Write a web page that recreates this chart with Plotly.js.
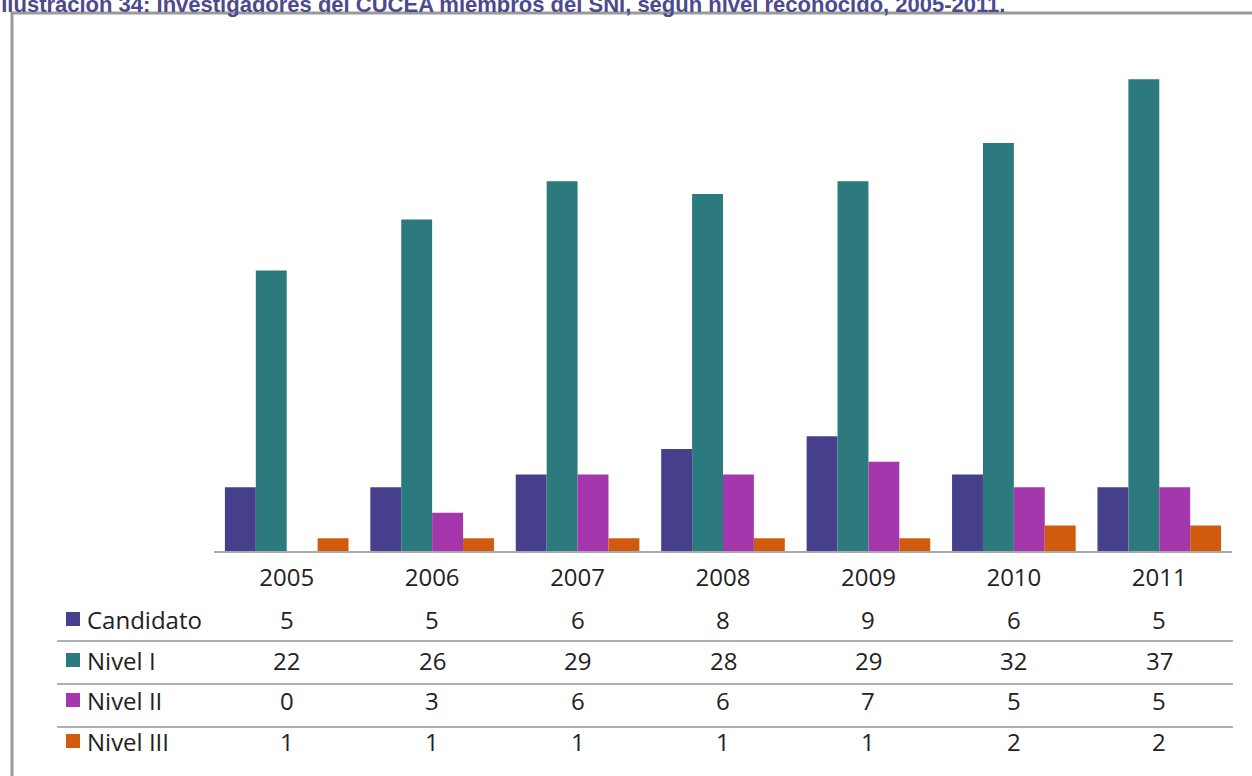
<!DOCTYPE html>
<html>
<head>
<meta charset="utf-8">
<script src="https://cdn.plot.ly/plotly-3.0.1.min.js"></script>
<style>html,body{margin:0;padding:0;background:#fff;overflow:hidden}</style>
</head>
<body>
<div id="chart" style="width:1252px;height:776px"></div>
<script>
// ---- data ----
const years = ['2005', '2006', '2007', '2008', '2009', '2010', '2011'];
const seriesNames = ['Candidato', 'Nivel I', 'Nivel II', 'Nivel III'];
const candidato = [5, 5, 6, 8, 9, 6, 5];
const nivelI = [22, 26, 29, 28, 29, 32, 37];
const nivelII = [0, 3, 6, 6, 7, 5, 5];
const nivelIII = [1, 1, 1, 1, 1, 2, 2];
const colors = ['#453f8c', '#2d7a7e', '#a537ad', '#d05a0e'];
const titleText = 'Ilustración 34: Investigadores del CUCEA miembros del SNI, según nivel reconocido, 2005-2011.';

const allSeries = [candidato, nivelI, nivelII, nivelIII];

// ---- geometry ----
const W = 1252, H = 776;
const M = {l: 214, r: 20, t: 60, b: 225};
const PW = W - M.l - M.r, PH = H - M.t - M.b;
const px2x = p => (p - M.l) / PW;          // pixel x -> paper x
const px2y = p => (H - M.b - p) / PH;      // pixel y -> paper y

const rowY = [619, 660, 700, 741];
const sepY = [641, 684, 727];
const tableFont = {family: 'Open Sans, DejaVu Sans, sans-serif', size: 24, color: '#222'};

const traces = seriesNames.map((name, i) => ({
  type: 'bar',
  name: name,
  x: years,
  y: allSeries[i],
  marker: {color: colors[i]},
  hoverinfo: 'x+y+name'
}));

const annotations = [];
const shapes = [];

seriesNames.forEach((name, i) => {
  annotations.push({
    xref: 'paper', yref: 'paper', x: px2x(85), y: px2y(rowY[i]),
    xanchor: 'left', yanchor: 'middle', text: name, showarrow: false, font: tableFont
  });
  shapes.push({
    type: 'rect', xref: 'paper', yref: 'paper',
    x0: px2x(66), x1: px2x(80), y0: px2y(rowY[i] + 7), y1: px2y(rowY[i] - 7),
    fillcolor: colors[i], line: {width: 0}
  });
  years.forEach((yr, j) => {
    annotations.push({
      xref: 'x', yref: 'paper', x: j, y: px2y(rowY[i]),
      xanchor: 'center', yanchor: 'middle', text: String(allSeries[i][j]),
      showarrow: false, font: tableFont
    });
  });
});

sepY.forEach(py => {
  shapes.push({
    type: 'line', xref: 'paper', yref: 'paper',
    x0: px2x(57), x1: px2x(1233), y0: px2y(py), y1: px2y(py),
    line: {color: '#b0b0b0', width: 2}
  });
});

shapes.push({
  type: 'rect', xref: 'paper', yref: 'paper',
  x0: px2x(12), x1: px2x(1275), y0: px2y(800), y1: px2y(13),
  line: {color: '#9a9a9a', width: 3}, fillcolor: 'rgba(0,0,0,0)', layer: 'below'
});

const layout = {
  width: W, height: H,
  margin: M,
  paper_bgcolor: '#fff', plot_bgcolor: '#fff',
  showlegend: false,
  barmode: 'group',
  bargap: 0.15,
  bargroupgap: 0,
  title: {
    text: titleText,
    xref: 'container', yref: 'container',
    x: 0.001, xanchor: 'left',
    y: 1 - 12 / H, yanchor: 'bottom',
    font: {family: 'Liberation Sans, Arial, sans-serif', size: 22, color: '#4a4a8c', weight: 'bold'}
  },
  xaxis: {
    type: 'category',
    range: [-0.5, years.length - 0.5],
    autorange: false,
    showgrid: false, zeroline: false,
    showline: true, linecolor: '#aaaaaa', linewidth: 2,
    ticks: '', ticklen: 0,
    ticklabelstandoff: 4,
    tickfont: tableFont,
    fixedrange: true
  },
  yaxis: {
    range: [0, 38.5],
    autorange: false,
    showgrid: false, zeroline: false, showline: false,
    showticklabels: false, ticks: '',
    fixedrange: true
  },
  annotations: annotations,
  shapes: shapes
};

Plotly.newPlot('chart', traces, layout, {displayModeBar: false, staticPlot: true});
</script>
</body>
</html>
